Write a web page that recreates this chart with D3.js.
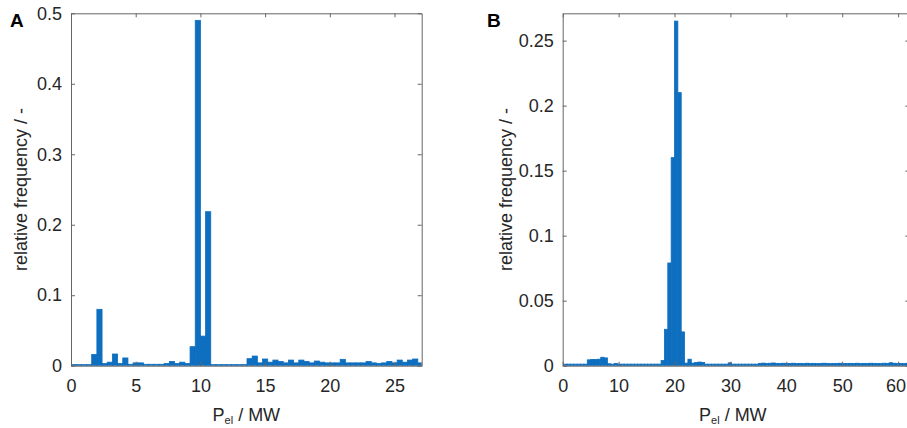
<!DOCTYPE html>
<html>
<head>
<meta charset="utf-8">
<script src="https://cdn.jsdelivr.net/npm/d3@7"></script>
<style>
  body { margin: 0; background: #fff; }
  text { font-family: "Liberation Sans", Arial, sans-serif; }
</style>
</head>
<body>
<svg id="canvas"></svg>
<script>
const width = 907, height = 428;

// Panel A: histogram bins of 0.4 MW starting at 0
const binStartA = 0;
const binWidthA = 0.4;
const freqA = [
  0.0015, 0.0015, 0.0015, 0.0015, 0.016, 0.080, 0.003, 0.005, 0.0166, 0.003,
  0.011, 0.002, 0.004, 0.004, 0.002, 0.002, 0.002, 0.002, 0.003, 0.006,
  0.003, 0.005, 0.003, 0.027, 0.490, 0.042, 0.2185, 0.0015, 0.0015, 0.0015,
  0.0015, 0.0015, 0.0015, 0.0015, 0.010, 0.0137, 0.004, 0.0095, 0.005, 0.008,
  0.006, 0.004, 0.008, 0.004, 0.008, 0.006, 0.004, 0.0066, 0.005, 0.004,
  0.004, 0.004, 0.009, 0.004, 0.004, 0.004, 0.004, 0.006, 0.004, 0.003,
  0.004, 0.006, 0.004, 0.008, 0.005, 0.008, 0.0095, 0.004
];
const xTicksA = [0, 5, 10, 15, 20, 25];
const yTicksA = [0, 0.1, 0.2, 0.3, 0.4, 0.5];

// Panel B: histogram bins of 0.6 MW starting at 0.2
const binStartB = 0.2;
const binWidthB = 0.6;
const freqB = [
  0.0012, 0.0012, 0.0012, 0.0012, 0.0012, 0.0012, 0.0012, 0.0045, 0.0048, 0.0048,
  0.005, 0.0065, 0.006, 0.0015, 0.0012, 0.0018, 0.0012, 0.0012, 0.0012, 0.0012,
  0.0012, 0.0012, 0.0012, 0.0012, 0.0012, 0.0012, 0.0012, 0.0012, 0.0012, 0.004,
  0.028, 0.079, 0.160, 0.265, 0.210, 0.026, 0.002, 0.005, 0.002, 0.0025,
  0.0028, 0.0025, 0.0012, 0.0012, 0.0012, 0.0012, 0.0012, 0.0012, 0.0012, 0.0022,
  0.0012, 0.0012, 0.0012, 0.0012, 0.0012, 0.0012, 0.0012, 0.0012,
  0.0018, 0.002, 0.0017, 0.0019, 0.0021, 0.0018, 0.0017, 0.0019, 0.0016,
  0.0018, 0.0019, 0.0017, 0.0018, 0.0016, 0.0019, 0.0017, 0.0018, 0.0016,
  0.0017, 0.0019, 0.0018, 0.0016, 0.0017, 0.0018, 0.0019, 0.0016, 0.0017,
  0.0018, 0.0017, 0.0019, 0.0016, 0.0018, 0.0017, 0.0019, 0.0018, 0.0017,
  0.0016, 0.0019, 0.0018, 0.0023, 0.0019, 0.0017, 0.0018, 0.0016, 0.0019
];
const xTicksB = [0, 10, 20, 30, 40, 50, 60];
const yTicksB = [0, 0.05, 0.1, 0.15, 0.2, 0.25];

const barColor = "#0e6ebf";
const axisColor = "#262626";
const fontSize = 18;

const svg = d3.select("#canvas")
    .attr("width", width)
    .attr("height", height);

// Draw one histogram panel
function drawPanel(p) {
    const x = d3.scaleLinear().domain(p.xDomain).range([p.left, p.right]);
    const y = d3.scaleLinear().domain(p.yDomain).range([p.bottom, p.top]);

    const g = svg.append("g");

    // clip bars to the axes box
    const clipId = "clip-" + p.letter;
    g.append("clipPath").attr("id", clipId)
        .append("rect")
        .attr("x", p.left).attr("y", p.top)
        .attr("width", p.right - p.left).attr("height", p.bottom - p.top);

    g.append("g")
        .attr("clip-path", "url(#" + clipId + ")")
        .selectAll("rect")
        .data(p.freq)
        .enter()
        .append("rect")
        .attr("x", (d, i) => x(p.binStart + i * p.binWidth))
        .attr("width", (d, i) => x(p.binStart + (i + 1) * p.binWidth) - x(p.binStart + i * p.binWidth))
        .attr("y", d => y(d))
        .attr("height", d => y(0) - y(d))
        .attr("fill", barColor)
        .attr("stroke", barColor)
        .attr("stroke-width", 0.8);

    // box axes with inward ticks
    const fmt = d3.format("");
    const axes = [
        { ax: d3.axisBottom(x).tickValues(p.xTicks).tickFormat(fmt).tickPadding(14), tr: `translate(0,${p.bottom})` },
        { ax: d3.axisTop(x).tickValues(p.xTicks).tickFormat(""), tr: `translate(0,${p.top})` },
        { ax: d3.axisLeft(y).tickValues(p.yTicks).tickFormat(fmt).tickPadding(9), tr: `translate(${p.left},0)` },
        { ax: d3.axisRight(y).tickValues(p.yTicks).tickFormat(""), tr: `translate(${p.right},0)` }
    ];
    axes.forEach(a => {
        const ag = g.append("g")
            .attr("transform", a.tr)
            .call(a.ax.tickSizeInner(-4).tickSizeOuter(0));
        ag.select(".domain").attr("stroke", "#666").attr("stroke-width", 1);
        ag.selectAll(".tick line").attr("stroke", "#666");
        ag.selectAll(".tick text")
            .attr("fill", axisColor)
            .style("font-size", fontSize + "px")
            .style("font-family", "'Liberation Sans', Arial, sans-serif");
        // keep labels that run past the page edge inside it
        ag.selectAll(".tick").each(function () {
            const t = d3.select(this).select("text");
            if (t.empty() || !t.text()) return;
            const box = this.getBoundingClientRect();
            if (box.right > width - 1) t.attr("dx", (width - 1 - box.right) + "px");
        });
    });

    // panel letter
    g.append("text")
        .attr("x", p.letterX).attr("y", 27)
        .attr("font-weight", "bold")
        .attr("font-size", 19)
        .attr("fill", "#000")
        .text(p.letter);

    // y label
    g.append("text")
        .attr("transform", `translate(${p.yLabelX},${(p.top + p.bottom) / 2}) rotate(-90)`)
        .attr("text-anchor", "middle")
        .attr("font-size", fontSize)
        .attr("fill", axisColor)
        .text("relative frequency / -");

    // x label with subscript
    const xl = g.append("text")
        .attr("x", (p.left + Math.min(p.right, width)) / 2 + p.xLabelShift)
        .attr("y", 421)
        .attr("text-anchor", "middle")
        .attr("font-size", fontSize)
        .attr("fill", axisColor);
    xl.append("tspan").text("P");
    xl.append("tspan").attr("font-size", 11).attr("dy", 3).text("el");
    xl.append("tspan").attr("dy", -3).text(" / MW");
}

drawPanel({
    letter: "A", letterX: 10, yLabelX: 27, xLabelShift: 0,
    left: 71, right: 421.7, top: 13.3, bottom: 365.7,
    xDomain: [0, 27.1], yDomain: [0, 0.5],
    binStart: binStartA, binWidth: binWidthA, freq: freqA,
    xTicks: xTicksA, yTicks: yTicksA
});

drawPanel({
    letter: "B", letterX: 487, yLabelX: 512, xLabelShift: -2,
    left: 562.7, right: 909.3, top: 13.3, bottom: 365.7,
    xDomain: [0, 62], yDomain: [0, 0.271],
    binStart: binStartB, binWidth: binWidthB, freq: freqB,
    xTicks: xTicksB, yTicks: yTicksB
});
</script>
</body>
</html>
